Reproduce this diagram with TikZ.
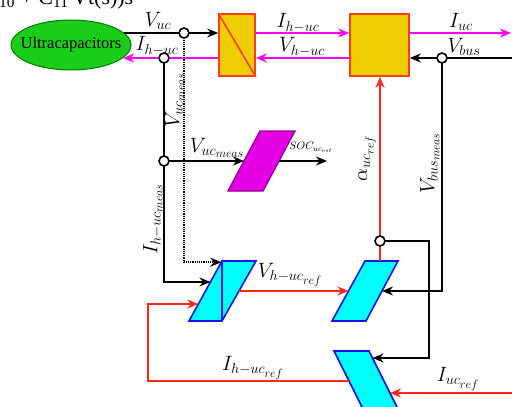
\documentclass[tikz,border=0pt]{standalone}
\usepackage[no-math]{fontspec}
\setmainfont{Liberation Serif}
\usetikzlibrary{arrows.meta,shapes.geometric,calc}
\definecolor{boxyellow}{RGB}{238,206,0}
\definecolor{boxred}{RGB}{255,60,30}
\definecolor{wirered}{RGB}{255,40,25}
\definecolor{wiremag}{RGB}{255,0,255}
\definecolor{ellgreen}{RGB}{25,205,25}
\definecolor{ellborder}{RGB}{0,120,0}
\definecolor{socfill}{RGB}{230,0,230}
\definecolor{socborder}{RGB}{150,0,150}
\definecolor{parafill}{RGB}{0,255,255}
\definecolor{paraborder}{RGB}{20,20,230}
\begin{document}
\begin{tikzpicture}[x=1pt,y=-1pt,
  lbl/.style={font=\fontsize{20.74}{24}\selectfont, inner sep=0pt},
  smlbl/.style={font=\fontsize{10.95}{13}\selectfont, inner sep=0pt},
  wire/.style={line width=1.6pt, black},
  magw/.style={line width=1.6pt, wiremag},
  redw/.style={line width=1.7pt, wirered},
  dotw/.style={line width=1.6pt, black, dash pattern=on 1.1pt off 1.1pt},
  arr/.style={-{Stealth[length=11pt,width=9pt,inset=3.5pt]}},
  jn/.style={circle, draw=black, fill=white, line width=1.6pt, minimum size=10pt, inner sep=0pt},
  conv/.style={draw=boxred, fill=boxyellow, line width=1.6pt, inner sep=0pt},
  socpar/.style={draw=socborder, fill=socfill, line width=1.4pt, line join=miter},
  cyanpar/.style={draw=paraborder, fill=parafill, line width=1.6pt, line join=miter}
]
\useasboundingbox (0,0) rectangle (512,407);
\clip (0,0) rectangle (512,407);

% clipped caption fragment
\node[anchor=base west, inner sep=0pt, font=\fontsize{22}{26}\selectfont] (cut) at (-1,4.5) {\textsubscript{10} + C\textsubscript{11}\,Vt(s))s};

% main nodes
\node[ellipse, draw=ellborder, fill=ellgreen, line width=1pt, minimum width=120pt, minimum height=50pt, inner sep=0pt,
      font=\fontsize{16.5}{18}\selectfont] (ell) at (71,45) {\makebox[0pt]{Ultracapacitors}};
\node[conv, minimum width=36pt, minimum height=62pt] (b1) at (237,45) {};
\draw[boxred, line width=1.6pt] (b1.north west) -- (b1.south east);
\node[conv, minimum width=59pt, minimum height=62pt] (b2) at (379.5,45) {};

% parallelograms
\coordinate (m1) at (260,131); \coordinate (m2) at (295,131);
\coordinate (m3) at (263,191); \coordinate (m4) at (228,191);
\draw[socpar] (m1) -- (m2) -- (m3) -- (m4) -- cycle;

\coordinate (p1a) at (222,261); \coordinate (p1b) at (256,261);
\coordinate (p1c) at (222,321); \coordinate (p1d) at (189,321);
\draw[cyanpar] (p1a) -- (p1b) -- (p1c) -- (p1d) -- cycle;
\draw[paraborder, line width=1.6pt] (p1a) -- (p1c);

\coordinate (p2a) at (365,261); \coordinate (p2b) at (398,261);
\coordinate (p2c) at (366,321); \coordinate (p2d) at (332,321);
\draw[cyanpar] (p2a) -- (p2b) -- (p2c) -- (p2d) -- cycle;

\coordinate (p3a) at (334,351); \coordinate (p3b) at (369,351);
\coordinate (p3c) at (404,421); \coordinate (p3d) at (369,421);
\draw[cyanpar] (p3a) -- (p3b) -- (p3c) -- (p3d) -- cycle;

% connection points
\coordinate (mL) at ($(m1)!0.5!(m4)$);
\coordinate (mR) at ($(m2)!0.5!(m3)$);
\coordinate (socout) at (327,161);
\coordinate (p1L1) at ($(p1a)!0.02!(p1d)$);
\coordinate (p1L2) at ($(p1a)!0.35!(p1d)$);
\coordinate (p1L3) at ($(p1a)!0.717!(p1d)$);
\coordinate (p1R) at ($(p1b)!0.5!(p1c)$);
\coordinate (p2L) at ($(p2a)!0.5!(p2d)$);
\coordinate (p2R) at ($(p2b)!0.5!(p2c)$);
\coordinate (p2top) at (380,261);
\coordinate (p3L) at ($(p3a)!0.4286!(p3d)$);
\coordinate (p3R1) at ($(p3b)!0.1!(p3c)$);
\coordinate (p3R2) at ($(p3b)!0.6!(p3c)$);
\coordinate (rin1) at (511,33);
\coordinate (rin2) at (513,58);
\coordinate (rin3) at (513,393);
\coordinate (lx) at (148,340);
\coordinate (rx2) at (429,300);

% junctions
\coordinate (j1) at (184,33);
\coordinate (j2) at (164,58);
\coordinate (j3) at (442,58);
\coordinate (j4) at (164,161);
\coordinate (j5) at (380,241);

% connectors
\draw[wire, arr] (ell.13 |- j1) -- (b1.west |- j1);
\draw[magw, arr] (b1.west |- j2) -- (ell.-14 |- j2);
\draw[magw, arr] (b1.east |- j1) -- (b2.west |- j1);
\draw[magw, arr] (b2.west |- j2) -- (b1.east |- j2);
\draw[magw, arr] (b2.east |- j1) -- (rin1);
\draw[wire, arr] (rin2) -- (b2.east |- j2);
\draw[wire, arr] (j3) |- (p2R);
\draw[redw, arr] (p2top) -- (p2top |- b2.south);
\draw[wire, arr] (j5) -| (rx2) |- (p3R1);
\draw[redw, arr] (rin3) -- (p3R2);
\draw[redw, arr] (p3L) -| (lx) |- (p1L3);
\draw[redw, arr] (p1R) -- (p2L);
\draw[wire, arr] (j2) |- (p1L2);
\draw[dotw, arr] (j1) |- (p1L1);
\draw[wire, arr] (j4) -- (mL);
\draw[wire, arr] (mR) -- (socout);

% junction dots
\foreach \j in {j1,j2,j3,j4,j5} \node[jn] at (\j) {};

% labels
\node[lbl] (lVuc) at (158,21) {$V_{uc}$};
\node[lbl] (lIhuc1) at (157,46) {$I_{h-uc}$};
\node[lbl] (lIhuc2) at (298,23) {$I_{h-uc}$};
\node[lbl] (lVhuc) at (302,47) {$V_{h-uc}$};
\node[lbl] (lIuc) at (461,22) {$I_{uc}$};
\node[lbl] (lVbus) at (464,47) {$V_{bus}$};
\node[lbl, rotate=90] (lVucm) at (175,100) {$V_{uc_{meas}}$};
\node[lbl, rotate=90] (lIhucm) at (153,219) {$I_{h-uc_{meas}}$};
\node[lbl] (lVucm2) at (217,148) {$V_{uc_{meas}}$};
\node[smlbl] (lSOC) at (311,147) {$SOC_{uc_{est}}$};
\node[lbl, rotate=90] (lalpha) at (367,158) {$\alpha_{uc_{ref}}$};
\node[lbl, rotate=90] (lVbusm) at (430,163) {$V_{bus_{meas}}$};
\node[lbl] (lVhucr) at (290,275) {$V_{h-uc_{ref}}$};
\node[lbl] (lIhucr) at (253,368) {$I_{h-uc_{ref}}$};
\node[lbl] (lIucr) at (458,379) {$I_{uc_{ref}}$};
\end{tikzpicture}
\end{document}
